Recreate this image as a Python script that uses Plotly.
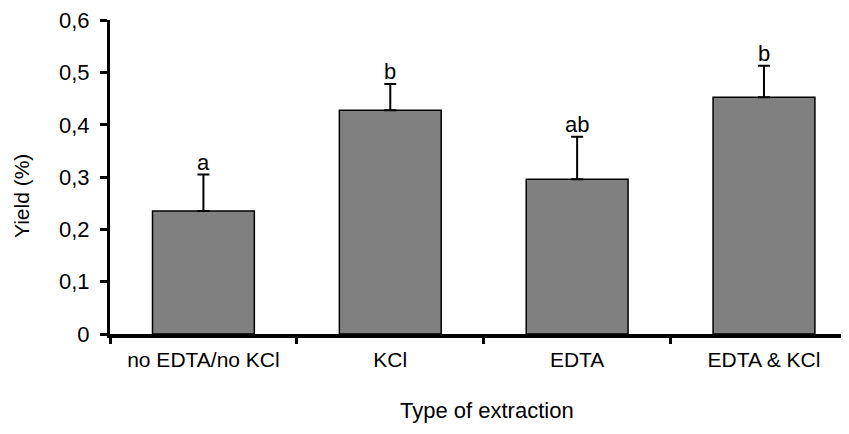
import plotly.graph_objects as go

categories = ["no EDTA/no KCl", "KCl", "EDTA", "EDTA & KCl"]
yield_pct = [0.235, 0.428, 0.296, 0.453]
error_up = [0.070, 0.050, 0.081, 0.060]
letters = ["a", "b", "ab", "b"]
y_ticks = [0, 0.1, 0.2, 0.3, 0.4, 0.5, 0.6]
y_ticktext = ["0", "0,1", "0,2", "0,3", "0,4", "0,5", "0,6"]

FONT = "Liberation Sans, Arial, sans-serif"

fig = go.Figure()
fig.add_trace(go.Bar(
    x=categories, y=yield_pct,
    marker=dict(color="#808080", line=dict(color="black", width=1.5)),
    error_y=dict(type="data", symmetric=False, array=error_up, arrayminus=[0]*len(error_up),
                 color="black", thickness=2, width=6),
    width=0.545,
))

for c, v, e, t in zip(categories, yield_pct, error_up, letters):
    fig.add_annotation(x=c, y=v + e, text=t, showarrow=False, yanchor="bottom",
                       yshift=-2, font=dict(family=FONT, size=22, color="black"))

fig.add_annotation(xref="paper", yref="paper", x=0.5095, y=-0.245, text="Type of extraction",
                   showarrow=False, xanchor="center", yanchor="middle",
                   font=dict(family=FONT, size=22, color="black"))
fig.add_annotation(xref="paper", yref="paper", x=-0.119, y=0.4395, text="Yield (%)",
                   textangle=-90, showarrow=False, xanchor="center", yanchor="middle",
                   font=dict(family=FONT, size=21, color="black"))

fig.update_layout(
    width=841, height=426,
    margin=dict(l=102, r=0, t=12, b=100),
    plot_bgcolor="white", paper_bgcolor="white",
    showlegend=False,
    font=dict(family=FONT, size=22, color="black"),
)
fig.update_xaxes(
    type="category", range=[-0.5, 3.455],
    showline=True, linecolor="black", linewidth=4,
    ticks="outside", tickson="boundaries", ticklen=6, tickwidth=3, tickcolor="black",
    showgrid=False, tickfont=dict(family=FONT, size=21), ticklabelstandoff=4,
)
fig.update_yaxes(
    range=[0, 0.6005], tickmode="array", tickvals=y_ticks, ticktext=y_ticktext,
    showline=True, linecolor="black", linewidth=3,
    ticks="outside", ticklen=7, tickwidth=3, tickcolor="black",
    showgrid=False, zeroline=False, tickfont=dict(family=FONT, size=22), ticklabelstandoff=6,
    ticklabeloverflow="allow",
)

fig.write_html("out.html")
